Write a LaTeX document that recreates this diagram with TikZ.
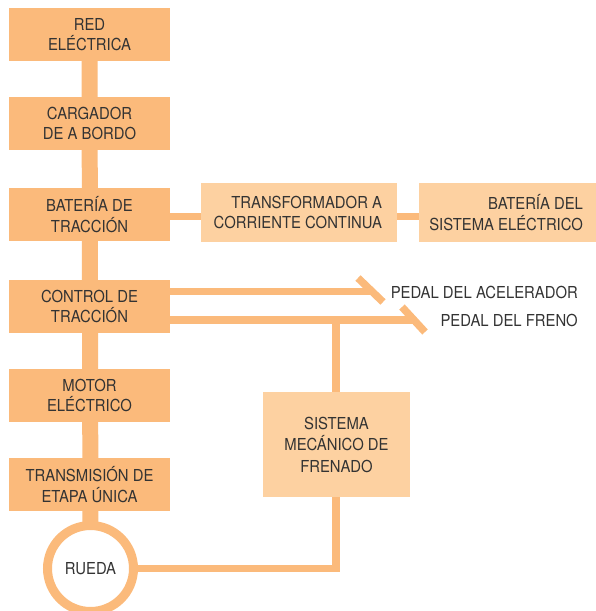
\documentclass[tikz,border=0pt]{standalone}
\usepackage{fontspec}
\setmainfont{TeX Gyre Heros}[FakeStretch=0.9]
\usetikzlibrary{backgrounds}
\definecolor{mainor}{HTML}{FBBA7B}
\definecolor{lightor}{HTML}{FDD1A1}
\definecolor{txt}{HTML}{333333}
\begin{document}
\begin{tikzpicture}[x=1pt,y=-1pt,
  every node/.style={text=txt,font=\fontsize{16.5}{20.5}\selectfont},
  mainbox/.style={fill=mainor,minimum width=161pt,minimum height=53pt,inner sep=0pt,align=center},
  sidebox/.style={fill=lightor,minimum height=59pt,inner sep=0pt},
  brakebox/.style={fill=lightor,minimum width=147pt,minimum height=105pt,inner sep=0pt,align=center,font=\fontsize{16.5}{21.5}\selectfont},
  spine/.style={draw=mainor,line width=16pt},
  thinlink/.style={draw=mainor,line width=7.5pt},
  plain/.style={inner sep=0pt},
  righttext/.style={inner sep=0pt,align=right,anchor=east}]
\useasboundingbox (0,0) rectangle (596,611);
\node[mainbox] (red) at (89.5,34.5) {RED\\ELÉCTRICA};
\node[mainbox] (carg) at (89.5,123.5) {CARGADOR\\DE A BORDO};
\node[mainbox] (bat) at (89.5,214.5) {BATERÍA DE\\TRACCIÓN};
\node[mainbox] (ctrl) at (89.5,306.5) {CONTROL DE\\TRACCIÓN};
\node[mainbox] (mot) at (89.5,395.5) {MOTOR\\ELÉCTRICO};
\node[mainbox] (trans) at (89.5,484.5) {TRANSMISIÓN DE\\ETAPA ÚNICA};
\node[circle,draw=mainor,line width=9pt,fill=white,minimum size=86pt,inner sep=0pt] (wheel) at (90.5,568.5) {RUEDA};
\node[sidebox,minimum width=196pt] (conv) at (299,212.5) {};
\node[righttext] (convt) at ([xshift=-15pt]conv.east) {TRANSFORMADOR A\\CORRIENTE CONTINUA};
\node[sidebox,minimum width=177pt] (aux) at (507.5,212.5) {};
\node[righttext] (auxt) at ([xshift=-13pt]aux.east) {BATERÍA DEL\\SISTEMA ELÉCTRICO};
\node[brakebox] (mech) at (336.5,444.5) {SISTEMA\\MECÁNICO DE\\FRENADO};
\node[plain,anchor=east] (acc) at (578,292) {PEDAL DEL ACELERADOR};
\node[plain,anchor=east] (brk) at (578,320.5) {PEDAL DEL FRENO};
\coordinate (yl) at (0,216.5);
\coordinate (ya) at (0,291.5);
\coordinate (yb) at (0,320);
\coordinate (a1) at (358,278);
\coordinate (a2) at (383,302);
\coordinate (b1) at (402,307);
\coordinate (b2) at (425,332);
\coordinate (aend) at (372,291.5);
\coordinate (bend) at (414,320);
\coordinate (tap) at (336,320);
\begin{pgfonlayer}{background}
\draw[spine] (red.center) -- (wheel.center);
\draw[thinlink] (bat.east |- yl) -- (aux.west |- yl);
\draw[thinlink] (ctrl.east |- ya) -- (aend);
\draw[thinlink] (ctrl.east |- yb) -- (bend);
\draw[thinlink] (a1) -- (a2);
\draw[thinlink] (b1) -- (b2);
\draw[thinlink] (tap) |- (wheel.center);
\end{pgfonlayer}
\end{tikzpicture}
\end{document}
